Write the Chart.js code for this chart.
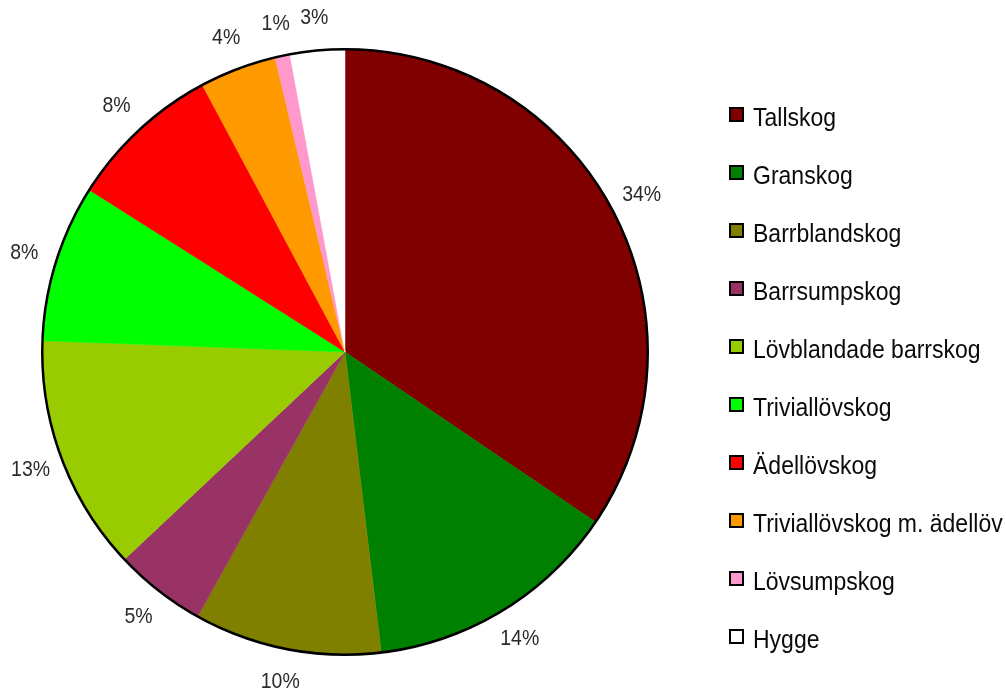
<!DOCTYPE html>
<html>
<head>
<meta charset="utf-8">
<script src="https://cdn.jsdelivr.net/npm/chart.js@4.4.0/dist/chart.umd.min.js"></script>
<style>
  html, body { margin: 0; padding: 0; background: #fff; }
  canvas { display: block; }
</style>
</head>
<body>
<canvas id="grafico" width="1006" height="695"></canvas>
<script>
// skogstyper och andel (%)
const kategorier = ['Tallskog', 'Granskog', 'Barrblandskog', 'Barrsumpskog', 'Lövblandade barrskog',
  'Triviallövskog', 'Ädellövskog', 'Triviallövskog m. ädellöv', 'Lövsumpskog', 'Hygge'];
const andelar = [34.49, 13.6, 10.0, 4.9, 12.6, 8.4, 8.2, 4.1, 0.8, 2.91];
const farger = ['#800000', '#008000', '#808000', '#993366', '#99CC00',
  '#00FF00', '#FF0000', '#FF9900', '#FF99CC', '#FFFFFF'];

// procentetiketter utanför tårtan + ram
const etiketter = {
  id: 'etiketter',
  afterDatasetsDraw(chart) {
    const ctx = chart.ctx;
    const meta = chart.getDatasetMeta(0);
    const arc0 = meta.data[0];
    const cx = arc0.x, cy = arc0.y, r = arc0.outerRadius;

    ctx.save();
    ctx.beginPath();
    ctx.arc(cx, cy, r, 0, Math.PI * 2);
    ctx.lineWidth = 2.5;
    ctx.strokeStyle = '#000';
    ctx.stroke();

    const summa = andelar.reduce((a, b) => a + b, 0);
    ctx.fillStyle = '#2a2a2a';
    ctx.font = '19.5px "Liberation Sans", Arial, sans-serif';
    ctx.textAlign = 'center';
    ctx.textBaseline = 'middle';
    meta.data.forEach((arc, i) => {
      const mid = (arc.startAngle + arc.endAngle) / 2;
      const d = r + 33;
      const x = cx + Math.cos(mid) * d;
      const y = cy + Math.sin(mid) * d;
      ctx.save();
      ctx.translate(x, y);
      ctx.scale(1, 1.15);
      ctx.fillText(Math.round(andelar[i] / summa * 100) + '%', 0, 0);
      ctx.restore();
    });
    ctx.restore();
  }
};

// egen förklaring till höger
const forklaring = {
  id: 'forklaring',
  afterDraw(chart) {
    const ctx = chart.ctx;
    ctx.save();
    ctx.font = '23px "Liberation Sans", Arial, sans-serif';
    ctx.textAlign = 'left';
    ctx.textBaseline = 'alphabetic';
    kategorier.forEach((namn, i) => {
      const bas = 126 + i * 58;
      ctx.fillStyle = farger[i];
      ctx.fillRect(730, bas - 18, 13, 13);
      ctx.lineWidth = 2;
      ctx.strokeStyle = '#000';
      ctx.strokeRect(730, bas - 18, 13, 13);
      ctx.fillStyle = '#0a0a0a';
      ctx.save();
      ctx.translate(753, bas);
      ctx.scale(1, 1.1);
      ctx.fillText(namn, 0, 0);
      ctx.restore();
    });
    ctx.restore();
  }
};

new Chart(document.getElementById('grafico').getContext('2d'), {
  type: 'pie',
  data: {
    labels: kategorier,
    datasets: [{
      data: andelar,
      backgroundColor: farger,
      borderColor: farger,
      borderWidth: 0.5
    }]
  },
  options: {
    responsive: false,
    animation: false,
    layout: { padding: { left: 42, top: 49, right: 358, bottom: 40 } },
    plugins: {
      legend: { display: false },
      tooltip: { enabled: false }
    }
  },
  plugins: [etiketter, forklaring]
});
</script>
</body>
</html>
